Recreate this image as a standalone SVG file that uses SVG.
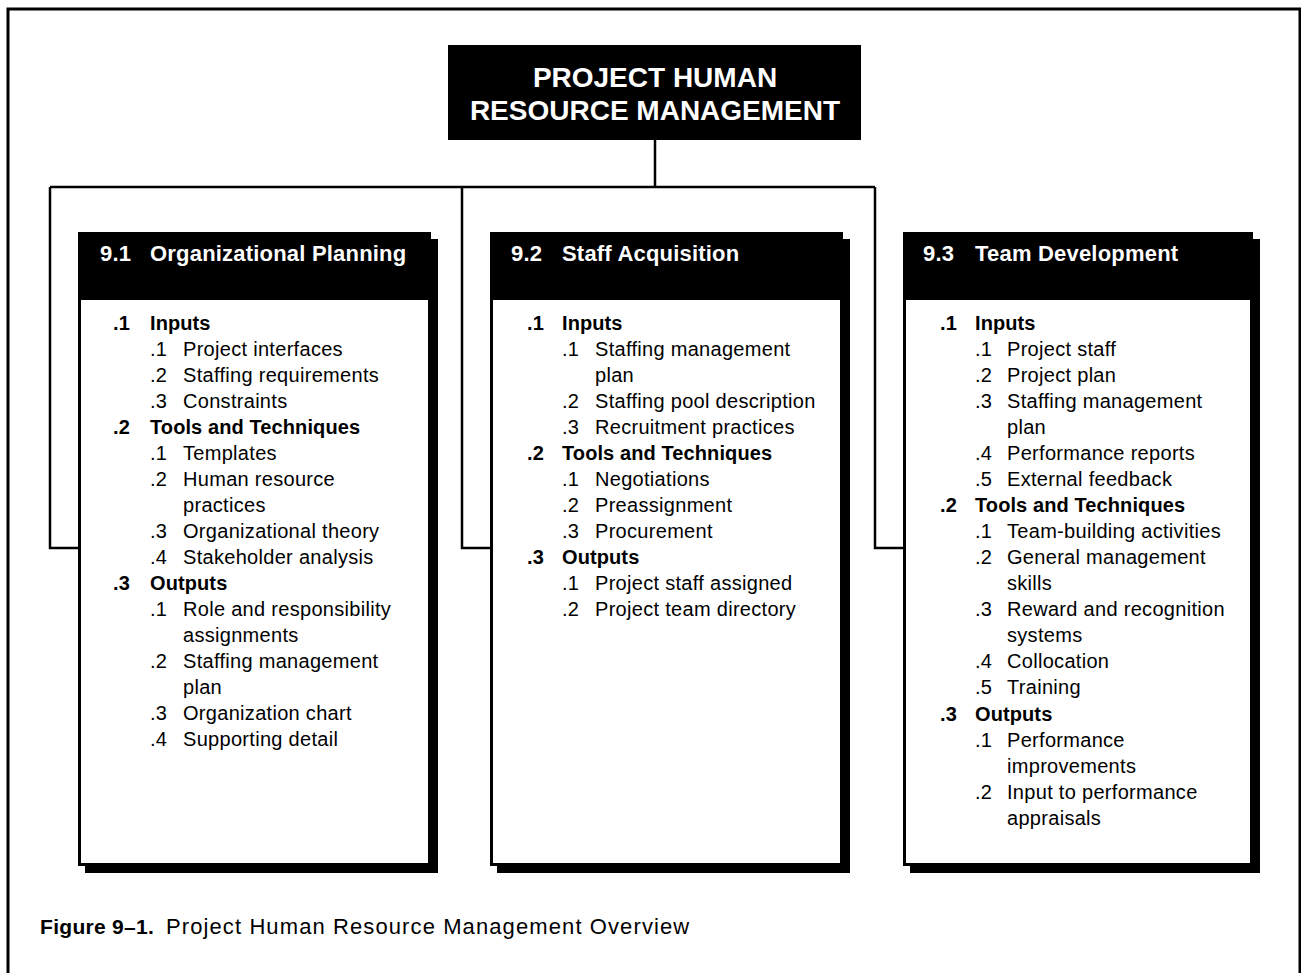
<svg xmlns="http://www.w3.org/2000/svg" width="1301" height="973" viewBox="0 0 1301 973">
<style>
.t{font-family:"Liberation Sans",Arial,sans-serif;font-size:20px;letter-spacing:0.3px;fill:#000}
.b{font-weight:bold;letter-spacing:0.1px}
.h{font-family:"Liberation Sans",Arial,sans-serif;font-size:22px;letter-spacing:0.2px;font-weight:bold;fill:#fff}
.top{font-family:"Liberation Sans",Arial,sans-serif;font-size:28px;font-weight:bold;fill:#fff}
.cap{font-family:"Liberation Sans",Arial,sans-serif;font-size:22px;letter-spacing:1.1px;fill:#000}
.capb{font-family:"Liberation Sans",Arial,sans-serif;font-size:21px;letter-spacing:0.3px;font-weight:bold;fill:#000}
.ln{fill:none;stroke:#000;stroke-width:2.5}
.shadow{fill:#000}
.body{fill:#fff;stroke:#000;stroke-width:3}
</style>
<rect x="0" y="0" width="1301" height="973" fill="#fff"/>
<path d="M8,973 V9 H1300 V973" fill="none" stroke="#000" stroke-width="3"/>
<g id="connectors">
<path class="ln" d="M655,140 V187"/>
<path class="ln" d="M50,187 H875"/>
<path class="ln" d="M50,187 V548 H78"/>
<path class="ln" d="M462,187 V548 H490"/>
<path class="ln" d="M875,187 V548 H903"/>
</g>
<g id="root">
<rect x="448" y="45" width="413" height="95" fill="#000"/>
<text class="top" x="655" y="87" text-anchor="middle">PROJECT HUMAN</text>
<text class="top" x="655" y="120" text-anchor="middle">RESOURCE MANAGEMENT</text>
</g>
<g id="box1">
<rect class="shadow" x="85" y="239" width="353" height="634"/>
<rect class="body" x="79.5" y="233.5" width="350" height="631"/>
<rect x="78" y="232" width="353" height="68" fill="#000"/>
<text class="h" x="100" y="261">9.1</text><text class="h" x="150" y="261">Organizational Planning</text>
<g class="t">
<text x="113" y="330" class="b">.1</text><text x="150" y="330" class="b">Inputs</text>
<text x="150" y="356">.1</text><text x="183" y="356">Project interfaces</text>
<text x="150" y="382">.2</text><text x="183" y="382">Staffing requirements</text>
<text x="150" y="408">.3</text><text x="183" y="408">Constraints</text>
<text x="113" y="434" class="b">.2</text><text x="150" y="434" class="b">Tools and Techniques</text>
<text x="150" y="460">.1</text><text x="183" y="460">Templates</text>
<text x="150" y="486">.2</text><text x="183" y="486">Human resource</text>
<text x="183" y="512">practices</text>
<text x="150" y="538">.3</text><text x="183" y="538">Organizational theory</text>
<text x="150" y="564">.4</text><text x="183" y="564">Stakeholder analysis</text>
<text x="113" y="590" class="b">.3</text><text x="150" y="590" class="b">Outputs</text>
<text x="150" y="616">.1</text><text x="183" y="616">Role and responsibility</text>
<text x="183" y="642">assignments</text>
<text x="150" y="668">.2</text><text x="183" y="668">Staffing management</text>
<text x="183" y="694">plan</text>
<text x="150" y="720">.3</text><text x="183" y="720">Organization chart</text>
<text x="150" y="746">.4</text><text x="183" y="746">Supporting detail</text>
</g>
</g>
<g id="box2">
<rect class="shadow" x="497" y="239" width="353" height="634"/>
<rect class="body" x="491.5" y="233.5" width="350" height="631"/>
<rect x="490" y="232" width="353" height="68" fill="#000"/>
<text class="h" x="511" y="261">9.2</text><text class="h" x="562" y="261">Staff Acquisition</text>
<g class="t">
<text x="527" y="330" class="b">.1</text><text x="562" y="330" class="b">Inputs</text>
<text x="562" y="356">.1</text><text x="595" y="356">Staffing management</text>
<text x="595" y="382">plan</text>
<text x="562" y="408">.2</text><text x="595" y="408">Staffing pool description</text>
<text x="562" y="434">.3</text><text x="595" y="434">Recruitment practices</text>
<text x="527" y="460" class="b">.2</text><text x="562" y="460" class="b">Tools and Techniques</text>
<text x="562" y="486">.1</text><text x="595" y="486">Negotiations</text>
<text x="562" y="512">.2</text><text x="595" y="512">Preassignment</text>
<text x="562" y="538">.3</text><text x="595" y="538">Procurement</text>
<text x="527" y="564" class="b">.3</text><text x="562" y="564" class="b">Outputs</text>
<text x="562" y="590">.1</text><text x="595" y="590">Project staff assigned</text>
<text x="562" y="616">.2</text><text x="595" y="616">Project team directory</text>
</g>
</g>
<g id="box3">
<rect class="shadow" x="910" y="239" width="350" height="634"/>
<rect class="body" x="904.5" y="233.5" width="347" height="631"/>
<rect x="903" y="232" width="350" height="68" fill="#000"/>
<text class="h" x="923" y="261">9.3</text><text class="h" x="975" y="261">Team Development</text>
<g class="t">
<text x="940" y="330" class="b">.1</text><text x="975" y="330" class="b">Inputs</text>
<text x="975" y="356">.1</text><text x="1007" y="356">Project staff</text>
<text x="975" y="382">.2</text><text x="1007" y="382">Project plan</text>
<text x="975" y="408">.3</text><text x="1007" y="408">Staffing management</text>
<text x="1007" y="434">plan</text>
<text x="975" y="460">.4</text><text x="1007" y="460">Performance reports</text>
<text x="975" y="486">.5</text><text x="1007" y="486">External feedback</text>
<text x="940" y="512" class="b">.2</text><text x="975" y="512" class="b">Tools and Techniques</text>
<text x="975" y="538">.1</text><text x="1007" y="538">Team-building activities</text>
<text x="975" y="564">.2</text><text x="1007" y="564">General management</text>
<text x="1007" y="590">skills</text>
<text x="975" y="616">.3</text><text x="1007" y="616">Reward and recognition</text>
<text x="1007" y="642">systems</text>
<text x="975" y="668">.4</text><text x="1007" y="668">Collocation</text>
<text x="975" y="694">.5</text><text x="1007" y="694">Training</text>
<text x="940" y="721" class="b">.3</text><text x="975" y="721" class="b">Outputs</text>
<text x="975" y="747">.1</text><text x="1007" y="747">Performance</text>
<text x="1007" y="773">improvements</text>
<text x="975" y="799">.2</text><text x="1007" y="799">Input to performance</text>
<text x="1007" y="825">appraisals</text>
</g>
</g>
<g id="caption">
<text class="capb" x="40" y="934">Figure 9–1.</text>
<text class="cap" x="166" y="934">Project Human Resource Management Overview</text>
</g>
</svg>
